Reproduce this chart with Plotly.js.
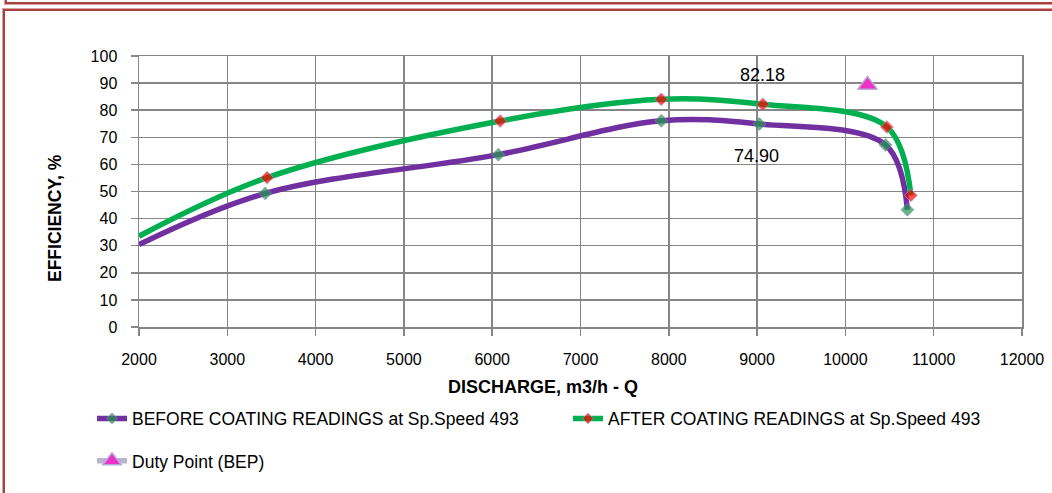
<!DOCTYPE html>
<html>
<head>
<meta charset="utf-8">
<script src="https://cdn.plot.ly/plotly-3.0.1.min.js"></script>
<style>
  html, body { margin:0; padding:0; width:1052px; height:493px; overflow:hidden; background:#fff; }
  .frame { position:absolute; box-sizing:border-box; border:2px solid #A8423F; box-shadow: 0 0 0 1px #DDA0A0; }
  #topbox { left:5px; top:-20px; width:1060px; height:24px; }
  #mainbox { left:3px; top:9px; width:1060px; height:500px; }
  #chart { position:absolute; left:0; top:0; width:1052px; height:493px; }
</style>
</head>
<body>
<div id="topbox" class="frame"></div>
<div id="mainbox" class="frame"></div>
<div id="chart"></div>
<script>
// Data
const beforeQ   = [2000, 3430, 6070, 7915, 9025, 10454, 10702];
const beforeEff = [30.4, 49.3, 63.6, 76.1, 74.9, 67.2, 43.3];
const afterQ    = [2000, 3450, 6090, 7915, 9065, 10470, 10742];
const afterEff  = [33.5, 55.1, 76.0, 84.0, 82.18, 73.8, 48.6];
const dutyQ     = [10250];
const dutyEff   = [89.3];
const labelBefore = {q: 9025, eff: 74.9, text: "74.90"};
const labelAfter  = {q: 9065, eff: 82.18, text: "82.18"};
const xTicks = [2000, 3000, 4000, 5000, 6000, 7000, 8000, 9000, 10000, 11000, 12000];
const yTicks = [0, 10, 20, 30, 40, 50, 60, 70, 80, 90, 100];

const FONT = "Liberation Sans, Arial, sans-serif";
const markerSizes = beforeQ.map((q, i) => i === 0 ? 0 : 10);

const traces = [
  {
    x: beforeQ, y: beforeEff, type: "scatter", mode: "lines+markers",
    name: "BEFORE COATING READINGS at Sp.Speed 493",
    line: {color: "#7030A0", width: 5.5, shape: "spline", smoothing: 1},
    marker: {symbol: "diamond", size: markerSizes, color: "#1F9B4F", line: {color: "#8E7CB8", width: 1}},
    legend: "legend"
  },
  {
    x: afterQ, y: afterEff, type: "scatter", mode: "lines+markers",
    name: "AFTER COATING READINGS at Sp.Speed 493",
    line: {color: "#00B050", width: 5.5, shape: "spline", smoothing: 1},
    marker: {symbol: "diamond", size: markerSizes, color: "#FF0000", line: {color: "#A99BC8", width: 1}},
    legend: "legend2"
  },
  {
    x: dutyQ, y: dutyEff, type: "scatter", mode: "lines+markers",
    name: "Duty Point (BEP)",
    line: {color: "#BCB3D0", width: 5.5},
    marker: {symbol: "triangle-up", size: 17, color: "#EE2FC8", line: {color: "#B9A9D6", width: 1.5}},
    legend: "legend3"
  }
];

const legendBase = {
  orientation: "h", xanchor: "left", yanchor: "middle",
  font: {family: FONT, size: 17.5, color: "#000"}, bgcolor: "rgba(0,0,0,0)"
};

const layout = {
  width: 1052, height: 493,
  margin: {l: 139, r: 30, t: 56, b: 166},
  paper_bgcolor: "rgba(0,0,0,0)",
  plot_bgcolor: "#ffffff",
  font: {family: FONT, size: 16, color: "#000"},
  showlegend: true,
  xaxis: {
    range: [2000, 12000], tickvals: xTicks, ticktext: xTicks.map(String),
    showgrid: true, gridcolor: "#868686", gridwidth: 1.5,
    showline: true, linecolor: "#868686", linewidth: 1.5, mirror: true,
    ticks: "outside", ticklen: 7, tickcolor: "#868686", tickwidth: 1.5,
    ticklabelstandoff: 10,
    zeroline: false,
    tickfont: {family: FONT, size: 16}
  },
  yaxis: {
    range: [0, 100], tickvals: yTicks, ticktext: yTicks.map(String),
    showgrid: true, gridcolor: "#868686", gridwidth: 1.5,
    showline: true, linecolor: "#868686", linewidth: 1.5, mirror: true,
    ticks: "outside", ticklen: 7, tickcolor: "#868686", tickwidth: 1.5,
    ticklabelstandoff: 10,
    zeroline: false,
    tickfont: {family: FONT, size: 16}
  },
  legend:  Object.assign({}, legendBase, {x: -0.0532, y: -0.338}),
  legend2: Object.assign({}, legendBase, {x: 0.4858, y: -0.338}),
  legend3: Object.assign({}, legendBase, {x: -0.0532, y: -0.494}),
  annotations: [
    {x: labelAfter.q, y: labelAfter.eff, text: labelAfter.text, showarrow: false, yshift: 29, font: {family: FONT, size: 18}},
    {x: labelBefore.q, y: labelBefore.eff, text: labelBefore.text, showarrow: false, yshift: -32, xshift: -3, font: {family: FONT, size: 18}},
    {xref: "paper", yref: "paper", x: (543 - 139) / 883, y: -(387 - 327) / 271, xanchor: "center", yanchor: "middle",
     text: "<b>DISCHARGE, m3/h - Q</b>", showarrow: false, font: {family: FONT, size: 18}},
    {xref: "paper", yref: "paper", x: (55 - 139) / 883, y: (327 - 218) / 271, xanchor: "center", yanchor: "middle",
     textangle: -90, text: "<b>EFFICIENCY, %</b>", showarrow: false, font: {family: FONT, size: 17.5}}
  ]
};

Plotly.newPlot("chart", traces, layout, {displayModeBar: false, staticPlot: true});
</script>
</body>
</html>
